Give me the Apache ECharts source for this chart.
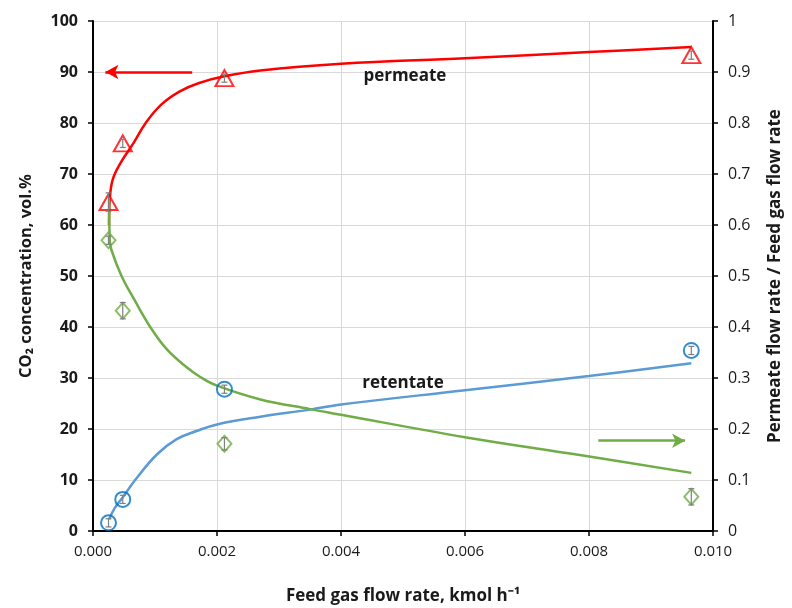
<!DOCTYPE html>
<html>
<head>
<meta charset="utf-8">
<script src="https://cdn.jsdelivr.net/npm/echarts@6/dist/echarts.min.js"></script>
<style>
  html, body { margin: 0; padding: 0; background: #fff; }
  #chart { width: 792px; height: 608px; }
</style>
</head>
<body>
<div id="chart"></div>
<script>
// measured points (x = feed gas flow rate, kmol/h)
var pointX = [0.00025, 0.00048, 0.00212, 0.00965];
var permeateCO2 = [64.5, 76.0, 88.8, 93.3];
var permeateErr = [1.8, 0.8, 0.8, 0.8];
var retentateCO2 = [1.6, 6.2, 27.8, 35.4];
var retentateErr = [0.8, 0.8, 0.8, 0.8];
var flowRatio = [0.57, 0.432, 0.171, 0.067];
var flowRatioErr = [0.008, 0.016, 0.012, 0.016];

// model curves
var permCurveX = [0.000258, 0.00027, 0.00032, 0.00045, 0.00065, 0.00085, 0.0011, 0.0014, 0.0017, 0.0021, 0.0027, 0.004, 0.006, 0.008, 0.00965];
var permCurveY = [60.0, 65.0, 69.0, 72.3, 76.0, 80.0, 83.6, 86.2, 87.8, 89.1, 90.3, 91.6, 92.7, 93.9, 94.9];
var retCurveX = [0.00026, 0.00035, 0.00048, 0.00068, 0.00103, 0.00135, 0.00167, 0.002, 0.0027, 0.0035, 0.004, 0.006, 0.008, 0.00965];
var retCurveY = [2.3, 4.5, 6.6, 10.0, 15.0, 18.0, 19.6, 20.9, 22.4, 23.8, 24.8, 27.6, 30.4, 32.9];
var ratioCurveX = [0.00026, 0.00027, 0.0003, 0.00046, 0.00066, 0.00095, 0.0012, 0.0015, 0.00173, 0.002, 0.0027, 0.0035, 0.004, 0.006, 0.00785, 0.00965];
var ratioCurveY = [0.655, 0.57, 0.55, 0.50, 0.455, 0.395, 0.355, 0.322, 0.302, 0.285, 0.258, 0.239, 0.228, 0.184, 0.149, 0.114];

// arrows telling which axis each group belongs to
var permArrow = [[0.0016, 90], [0.0002, 90]];
var ratioArrow = [[0.00815, 0.177], [0.00955, 0.177]];

var FONT = 'Open Sans';
var INK = '#1a1a1a';

function pairs(xs, ys) {
  return xs.map(function (x, i) { return [x, ys[i]]; });
}
function errData(xs, ys, es) {
  return xs.map(function (x, i) { return [x, ys[i] - es[i], ys[i] + es[i]]; });
}
function errorBars(yIndex, data) {
  return {
    type: 'custom',
    yAxisIndex: yIndex,
    silent: true,
    z: 5,
    data: data,
    renderItem: function (params, api) {
      var lo = api.coord([api.value(0), api.value(1)]);
      var hi = api.coord([api.value(0), api.value(2)]);
      var w = 3;
      var st = { stroke: '#7f7f7f', lineWidth: 1.2 };
      return {
        type: 'group',
        children: [
          { type: 'line', shape: { x1: lo[0], y1: lo[1], x2: hi[0], y2: hi[1] }, style: st },
          { type: 'line', shape: { x1: lo[0] - w, y1: lo[1], x2: lo[0] + w, y2: lo[1] }, style: st },
          { type: 'line', shape: { x1: hi[0] - w, y1: hi[1], x2: hi[0] + w, y2: hi[1] }, style: st }
        ]
      };
    }
  };
}

var chart = echarts.init(document.getElementById('chart'));

var option = {
  animation: false,
  textStyle: { fontFamily: FONT },
  grid: { left: 93, right: 79, top: 21, bottom: 77, containLabel: false, outerBoundsMode: 'none' },
  xAxis: {
    type: 'value',
    min: 0, max: 0.01, interval: 0.002,
    name: 'Feed gas flow rate, kmol h\u207B\u00B9',
    nameLocation: 'middle',
    nameGap: 57,
    nameTextStyle: { fontSize: 17, fontWeight: 'bold', color: INK, fontFamily: FONT },
    axisLine: { onZero: false, lineStyle: { color: '#000', width: 2 } },
    axisTick: { show: true, length: 5, lineStyle: { color: '#000', width: 1.5 } },
    axisLabel: { fontSize: 15, color: INK, margin: 13, formatter: function (v) { return v.toFixed(3); } },
    splitLine: { lineStyle: { color: '#d9d9d9', width: 1 } }
  },
  yAxis: [
    {
      type: 'value',
      min: 0, max: 100, interval: 10,
      name: 'CO\u2082 concentration, vol.%',
      nameLocation: 'middle',
      nameGap: 58,
      nameTextStyle: { fontSize: 16.5, fontWeight: 'bold', color: INK, fontFamily: FONT },
      axisLine: { show: true, lineStyle: { color: '#000', width: 2 } },
      axisTick: { show: true, length: 5, lineStyle: { color: '#000', width: 1.5 } },
      axisLabel: { fontSize: 16, fontWeight: 'bold', color: INK, margin: 15 },
      splitLine: { lineStyle: { color: '#d9d9d9', width: 1 } }
    },
    {
      type: 'value',
      position: 'right',
      min: 0, max: 1, interval: 0.1,
      name: 'Permeate flow rate / Feed gas flow rate',
      nameLocation: 'middle',
      nameGap: 54,
      nameTextStyle: { fontSize: 17, fontWeight: 'bold', color: INK, fontFamily: FONT },
      axisLine: { show: true, lineStyle: { color: '#000', width: 2 } },
      axisTick: { show: true, length: 5, lineStyle: { color: '#000', width: 1.5 } },
      axisLabel: { fontSize: 16, color: INK, margin: 15 },
      splitLine: { show: false }
    }
  ],
  series: [
    {
      name: 'permeate model',
      type: 'line',
      smooth: 0.4,
      showSymbol: false,
      silent: true,
      lineStyle: { color: '#ff0000', width: 2.5 },
      data: pairs(permCurveX, permCurveY),
      markLine: {
        silent: true,
        symbol: ['none', 'arrow'],
        symbolSize: [11, 13],
        label: { show: false },
        lineStyle: { color: '#ff0000', width: 2.5, type: 'solid' },
        data: [[{ coord: permArrow[0] }, { coord: permArrow[1] }]]
      },
      markPoint: {
        silent: true,
        symbol: 'circle',
        symbolSize: 0,
        label: { show: true, position: 'inside', fontSize: 17, fontWeight: 'bold', color: INK, fontFamily: FONT },
        data: [
          { coord: [0.00503, 89.2], value: 'permeate' },
          { coord: [0.00500, 29.0], value: 'retentate' }
        ]
      }
    },
    {
      name: 'retentate model',
      type: 'line',
      smooth: 0.4,
      showSymbol: false,
      silent: true,
      lineStyle: { color: '#5b9bd5', width: 2.5 },
      data: pairs(retCurveX, retCurveY)
    },
    {
      name: 'flow ratio model',
      type: 'line',
      yAxisIndex: 1,
      smooth: 0.4,
      showSymbol: false,
      silent: true,
      lineStyle: { color: '#70ad47', width: 2.5 },
      data: pairs(ratioCurveX, ratioCurveY),
      markLine: {
        silent: true,
        symbol: ['none', 'arrow'],
        symbolSize: [11, 13],
        label: { show: false },
        lineStyle: { color: '#70ad47', width: 2.5, type: 'solid' },
        data: [[{ coord: ratioArrow[0] }, { coord: ratioArrow[1] }]]
      }
    },
    {
      name: 'permeate',
      type: 'scatter',
      symbol: 'triangle',
      symbolSize: [18, 16],
      z: 4,
      itemStyle: { color: 'rgba(0,0,0,0)', borderColor: '#ff0000', borderWidth: 2 },
      data: pairs(pointX, permeateCO2)
    },
    {
      name: 'retentate',
      type: 'scatter',
      symbol: 'circle',
      symbolSize: 15,
      z: 4,
      itemStyle: { color: 'rgba(0,0,0,0)', borderColor: '#0070c0', borderWidth: 2 },
      data: pairs(pointX, retentateCO2)
    },
    {
      name: 'flow ratio',
      type: 'scatter',
      yAxisIndex: 1,
      symbol: 'diamond',
      symbolSize: [14, 16],
      z: 4,
      itemStyle: { color: 'rgba(0,0,0,0)', borderColor: '#70ad47', borderWidth: 2 },
      data: pairs(pointX, flowRatio)
    },
    errorBars(0, errData(pointX, permeateCO2, permeateErr)),
    errorBars(0, errData(pointX, retentateCO2, retentateErr)),
    errorBars(1, errData(pointX, flowRatio, flowRatioErr))
  ]
};

chart.setOption(option);
</script>
</body>
</html>
